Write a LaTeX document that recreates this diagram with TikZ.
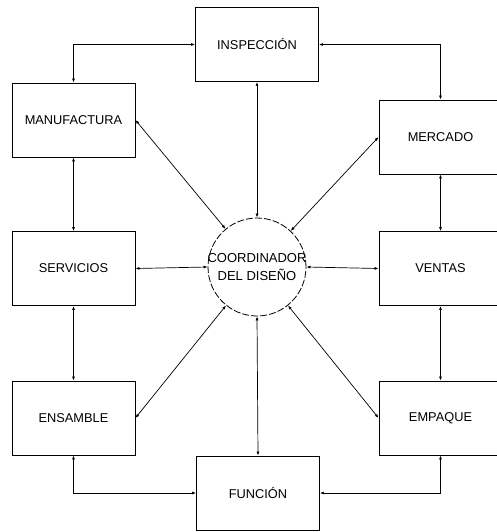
\documentclass[tikz,border=0pt]{standalone}
\usepackage{fontspec}
\setmainfont{Liberation Sans}
\usetikzlibrary{arrows.meta}
\begin{document}
\begin{tikzpicture}[
	x=1pt, y=-1pt,
	area/.style={ rectangle, draw, line width=0.9pt, inner sep=0pt, minimum width=123pt, minimum height=74pt, font=\fontsize{12.8}{15}\selectfont },
	coord/.style={ circle, draw, line width=0.8pt, dash pattern=on 7pt off 2pt, inner sep=0pt, minimum size=98pt },
	link/.style={ <->, >={Latex[length=4pt,width=3pt]}, line width=0.7pt }
]
\useasboundingbox (0,0) rectangle (497,532);

\node at (257,44.5) (insp) [area] {INSPECCIÓN};
\node at (73.5,120) (manu) [area] {MANUFACTURA};
\node at (73.5,268.5) (serv) [area] {SERVICIOS};
\node at (73.5,418) (ensa) [area] {ENSAMBLE};
\node at (258,493) (func) [area] {FUNCIÓN};
\node at (440.5,137) (merc) [area] {MERCADO};
\node at (440.5,268.5) (vent) [area] {VENTAS};
\node at (440.5,418) (empa) [area] {EMPAQUE};

\node at (257,267) (coor) [coord, label={[align=center,font=\fontsize{13}{17.5}\selectfont]center:COORDINADOR\\DEL DISEÑO}] {};

% contorno
\draw[link] (insp.west) -| (manu.north);
\draw[link] (insp.east) -| (merc.north);
\draw[link] (manu.south) to (serv.north);
\draw[link] (serv.south) to (ensa.north);
\draw[link] (merc.south) to (vent.north);
\draw[link] (vent.south) to (empa.north);
\draw[link] (ensa.south) |- (func.west);
\draw[link] (empa.south) |- (func.east);

% hacia el coordinador
\draw[link] (insp.south) to (coor.north);
\draw[link] (func.north) to (coor.south);
\draw[link] (serv.east) to (coor.west);
\draw[link] (vent.west) to (coor.east);
\draw[link] (manu.east) to (coor);
\draw[link] (merc.west) to (coor);
\draw[link] (ensa.east) to (coor);
\draw[link] (empa.west) to (coor);

\end{tikzpicture}
\end{document}
